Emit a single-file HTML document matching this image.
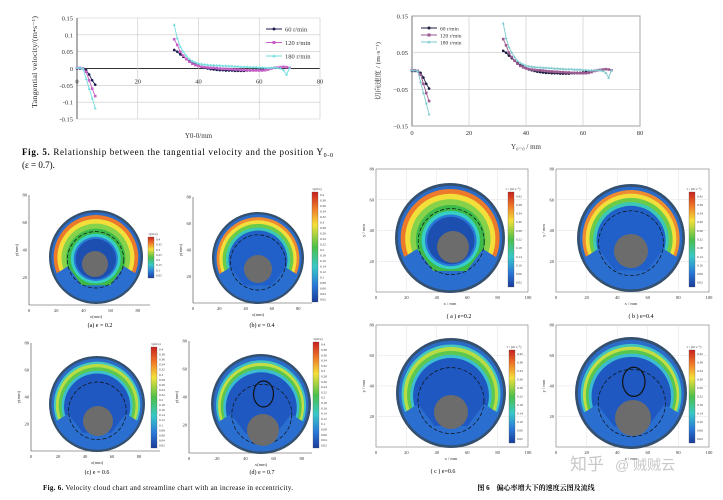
<!DOCTYPE html>
<html><head><meta charset="utf-8">
<style>
html,body{margin:0;padding:0;background:#fff;}
svg{display:block;font-family:"Liberation Serif","Noto Serif CJK SC",serif;}
</style></head>
<body>
<svg id="root" width="723" height="500" viewBox="0 0 723 500" xmlns="http://www.w3.org/2000/svg">
<defs>
<linearGradient id="cbar" x1="0" y1="0" x2="0" y2="1">
<stop offset="0" stop-color="#c8201e"/><stop offset="0.15" stop-color="#f07a28"/><stop offset="0.3" stop-color="#f4e03a"/>
<stop offset="0.5" stop-color="#4cc04a"/><stop offset="0.68" stop-color="#38c8c8"/><stop offset="0.85" stop-color="#2a78d8"/><stop offset="1" stop-color="#1a3c9a"/>
</linearGradient>
</defs>
<g id="charts"></g>
<g id="disks"></g>
<g id="texts">
<text x="22" y="155" font-size="9" textLength="311" lengthAdjust="spacing"><tspan font-weight="bold">Fig. 5.</tspan> Relationship between the tangential velocity and the position Y<tspan font-size="6" dy="2">0-0</tspan></text>
<text x="22" y="168" font-size="9">(ε = 0.7).</text>
<text x="100" y="327" font-size="6" text-anchor="middle">(a) e = 0.2</text>
<text x="262" y="327" font-size="6" text-anchor="middle">(b) e = 0.4</text>
<text x="97" y="474" font-size="6" text-anchor="middle">(c) e = 0.6</text>
<text x="262" y="474" font-size="6" text-anchor="middle">(d) e = 0.7</text>
<text x="43" y="490" font-size="7" textLength="250" lengthAdjust="spacing"><tspan font-weight="bold">Fig. 6.</tspan> Velocity cloud chart and streamline chart with an increase in eccentricity.</text>
<text x="459" y="318" font-size="6" text-anchor="middle">( a ) e=0.2</text>
<text x="641" y="318" font-size="6" text-anchor="middle">( b ) e=0.4</text>
<text x="443" y="473" font-size="6" text-anchor="middle">( c ) e=0.6</text>
<text x="536" y="490" font-size="7" font-weight="bold" text-anchor="middle">图 6　偏心率增大下的速度云图及流线</text>
<text x="570" y="470" font-size="17" fill="#c8c8c8" font-family="Liberation Sans,'Noto Sans CJK SC',sans-serif">知乎</text>
<text x="615" y="470" font-size="14" fill="#c8c8c8" font-family="Liberation Sans,'Noto Sans CJK SC',sans-serif">@ 贼贼云</text>
</g>
</svg>
<script>
const NS="http://www.w3.org/2000/svg";
// ---- chart data ----
const xSeg1=[0,1,2,3,4,5,6];
const x60b=[32,33,34,35,36,37,38,39,40,41,42,43,44,45,46,47,48,49,50,51,52,53,54,55,56,57,58,59,60,61,62];
const x120b=[32,33,34,35,36,37,38,39,40,41,42,43,44,45,46,47,48,49,50,51,52,53,54,55,56,57,58,59,60,61,62,63,64,65,66,67,68,69,70];
const x180b=[32,33,34,35,36,37,38,39,40,41,42,43,44,45,46,47,48,49,50,51,52,53,54,55,56,57,58,59,60,61,62,63,64,65,66,67,68,69,70];
const v60a=[0,0,0,-0.005,-0.018,-0.035,-0.048];
const v120a=[0.002,0.002,0,-0.01,-0.035,-0.06,-0.082];
const v180a=[0.002,0.002,0,-0.03,-0.06,-0.088,-0.118];
const v60b=[0.055,0.05,0.042,0.035,0.028,0.022,0.017,0.012,0.008,0.004,0.002,0,-0.002,-0.003,-0.004,-0.005,-0.005,-0.006,-0.006,-0.006,-0.007,-0.007,-0.007,-0.007,-0.006,-0.006,-0.005,-0.005,-0.004,-0.003,-0.002];
const v120b=[0.087,0.07,0.05,0.038,0.028,0.02,0.014,0.01,0.007,0.005,0.004,0.003,0.002,0.002,0.001,0,-0.001,-0.001,-0.002,-0.002,-0.003,-0.003,-0.004,-0.004,-0.005,-0.005,-0.006,-0.006,-0.006,-0.006,-0.005,-0.003,0,0.002,0.003,0.004,0.005,0.004,0.002];
const v180b=[0.13,0.09,0.065,0.05,0.038,0.028,0.022,0.018,0.015,0.013,0.012,0.011,0.01,0.01,0.009,0.009,0.008,0.008,0.007,0.007,0.006,0.006,0.005,0.005,0.005,0.004,0.004,0.004,0.003,0.003,0.002,0.002,0.002,0.003,0.002,0,-0.005,-0.018,0.002];
const seriesNames=["60 r/min","120 r/min","180 r/min"];
const xTicks=[0,20,40,60,80];
const yTicksL=[0.15,0.1,0.05,0,-0.05,-0.1,-0.15];
const yTickLabelsL=["0.15","0.1","0.05","0","-0.05","-0.1","-0.15"];
const yTicksR=[0.15,0.05,-0.05,-0.15];
const yTickLabelsR=["0.15","0.05","−0.05","−0.15"];

function el(tag,attrs,parent,text){const e=document.createElementNS(NS,tag);for(const k in attrs)e.setAttribute(k,attrs[k]);if(text!==undefined)e.textContent=text;parent.appendChild(e);return e;}
const charts=document.getElementById('charts');

function drawChart(cfg){
  const g=el('g',{},charts);
  
  
  const sx=v=>cfg.x0+(v-0)/80*(cfg.x1-cfg.x0);
  const sy=v=>cfg.y0+(0.15-v)/0.3*(cfg.y1-cfg.y0);
  if(cfg.box){const r=el('rect',{x:cfg.x0,y:cfg.y0,width:cfg.x1-cfg.x0,height:cfg.y1-cfg.y0,fill:'none',stroke:'#555','stroke-width':0.8},g);
    }
  cfg.yTicks.forEach((t,i)=>{
    const gl=el('line',{x1:cfg.x0,x2:cfg.x1,y1:sy(t),y2:sy(t),stroke:t===0&&!cfg.box?'#333':'#c8c8c8','stroke-width':t===0&&!cfg.box?0.9:0.6},g);
    
    const tl=el('text',{x:cfg.x0-4,y:sy(t)+2.5,'font-size':cfg.fs,'text-anchor':'end',fill:'#333'},g,cfg.yLabels[i]);
    
  });
  xTicks.forEach(t=>{
    if(t>0){const gl=el('line',{x1:sx(t),x2:sx(t),y1:cfg.y0,y2:cfg.y1,stroke:'#c8c8c8','stroke-width':0.6},g);
      }
    const ty=cfg.box?cfg.y1+9:sy(0)+15;
    const tl=el('text',{x:sx(t),y:ty,'font-size':cfg.fs,'text-anchor':'middle',fill:'#333'},g,String(t));
    
  });
  if(!cfg.box){const ax=el('line',{x1:cfg.x0,x2:cfg.x0,y1:cfg.y0,y2:cfg.y1,stroke:'#333','stroke-width':0.8},g);
    }
  const sets=[[xSeg1,v60a,x60b,v60b],[xSeg1,v120a,x120b,v120b],[xSeg1,v180a,x180b,v180b]];
  sets.forEach((s,k)=>{
    const col=cfg.colors[k];
    [[s[0],s[1]],[s[2],s[3]]].forEach(([xs,vs])=>{
      const pts=xs.map((x,i)=>sx(x).toFixed(1)+','+sy(vs[i]).toFixed(1)).join(' ');
      const pl=el('polyline',{points:pts,fill:'none',stroke:col,'stroke-width':0.9},g);
      
      
      xs.forEach((x,i)=>{
        let m;
        if(k===0)m=el('circle',{cx:sx(x),cy:sy(vs[i]),r:1.3,fill:col},g);
        else if(k===1)m=el('rect',{x:sx(x)-1.3,y:sy(vs[i])-1.3,width:2.6,height:2.6,fill:col},g);
        else m=el('polygon',{points:`${sx(x)},${sy(vs[i])-1.6} ${sx(x)-1.5},${sy(vs[i])+1.1} ${sx(x)+1.5},${sy(vs[i])+1.1}`,fill:col},g);
        
        
      });
    });
  });
  seriesNames.forEach((n,k)=>{
    const ly=cfg.ly+k*cfg.lstep;
    const ln=el('line',{x1:cfg.lx,x2:cfg.lx+16,y1:ly,y2:ly,stroke:cfg.colors[k],'stroke-width':1},g);
    
    let m;
    if(k===0)m=el('circle',{cx:cfg.lx+8,cy:ly,r:1.5,fill:cfg.colors[k]},g);
    else if(k===1)m=el('rect',{x:cfg.lx+6.5,y:ly-1.5,width:3,height:3,fill:cfg.colors[k]},g);
    else m=el('polygon',{points:`${cfg.lx+8},${ly-1.8} ${cfg.lx+6.3},${ly+1.2} ${cfg.lx+9.7},${ly+1.2}`,fill:cfg.colors[k]},g);
    
    const t=el('text',{x:cfg.lx+19,y:ly+2.5,'font-size':cfg.lfs,fill:'#333'},g,n);
    
  });
  const xt=el('text',{x:(cfg.x0+cfg.x1)/2,y:cfg.xty,'font-size':cfg.fs+0.5,'text-anchor':'middle',fill:'#333'},g,cfg.xTitle);
  
  const yt=el('text',{x:0,y:0,'font-size':cfg.yfs,'text-anchor':'middle',fill:'#333',textLength:cfg.ylen,lengthAdjust:'spacingAndGlyphs',transform:`translate(${cfg.ytx},${cfg.yty}) rotate(-90)`},g,cfg.yTitle);
  
}
drawChart({name:'chart-tangential-velocity-en',x0:77,x1:320,y0:18,y1:119,box:false,fs:6.5,yTicks:yTicksL,yLabels:yTickLabelsL,
  colors:['#1c1c50','#c860c8','#70dede'],lx:266,ly:29,lstep:13.5,lfs:6.5,xTitle:'Y0-0/mm',xty:138,ytx:37,yty:62,yfs:7,ylen:92,yTitle:'Tangential velocity/(m•s⁻¹)'});
drawChart({name:'chart-tangential-velocity-cn',x0:412,x1:640,y0:16,y1:126,box:true,fs:6.5,yTicks:yTicksR,yLabels:yTickLabelsR,
  colors:['#1c1c40','#9a5a90','#7ec8d0'],lx:421,ly:28,lstep:7,lfs:5.5,xTitle:'Y₀₋₀ / mm',xty:149,ytx:380,yty:71,yfs:6.5,ylen:58,yTitle:'切向速度 / (m·s⁻¹)'});

const disks=document.getElementById('disks');
const palettes={
 a:[[1,'#34506e'],[0.95,'#2a6cc8'],[0.9,'#ec7a2a'],[0.82,'#f3df3a'],[0.73,'#86d24a'],[0.63,'#3cba4a'],[0.53,'#38cfc4'],[0.47,'#2a7ad8'],[0.43,'#1d4fb0']],
 b:[[1,'#34506e'],[0.95,'#2a6cc8'],[0.9,'#ee8a30'],[0.84,'#f2df3c'],[0.77,'#6ccc48'],[0.7,'#3cc8b8'],[0.64,'#2060c8']],
 c:[[1,'#34506e'],[0.95,'#2a6cc8'],[0.9,'#44c8c0'],[0.86,'#b8dc44'],[0.8,'#5cc850'],[0.74,'#3cc0d0'],[0.69,'#1f58c0']],
 d:[[1,'#34506e'],[0.95,'#2a6cc8'],[0.9,'#40c4c0'],[0.86,'#c2de44'],[0.81,'#58c64e'],[0.76,'#3cbcd0'],[0.71,'#1f58c0']]
};
let cid=0;
function drawPanel(p){
  const g=el('g',{},disks);
  
  
  if(p.frame){const f=el('rect',{x:p.fx0,y:p.fy0,width:p.fx1-p.fx0,height:p.fy1-p.fy0,fill:'none',stroke:'#777','stroke-width':0.6},g);
    
    for(let i=1;i<5;i++){const x=p.fx0+i*(p.fx1-p.fx0)/5;el('line',{x1:x,x2:x,y1:p.fy0,y2:p.fy1,stroke:'#e2e2e2','stroke-width':0.5},g);}
    [20,40,60].forEach(v=>{const y=p.fy1-(v/80)*(p.fy1-p.fy0);el('line',{x1:p.fx0,x2:p.fx1,y1:y,y2:y,stroke:'#e2e2e2','stroke-width':0.5},g);});
  } else {
    const a1=el('path',{d:`M${p.fx0},${p.fy0} V${p.fy1} H${p.fx1}`,fill:'none',stroke:'#444','stroke-width':0.6},g);
    
  }
  p.xt.forEach((t,i)=>{const x=p.fx0+i*p.xstep;
    const tx=el('text',{x:x,y:p.fy1+7,'font-size':4.5,'text-anchor':'middle',fill:'#333'},g,t);
    });
  [80,60,40,20].forEach(v=>{const y=p.fy1-(v/80)*(p.fy1-p.fy0);
    const ty=el('text',{x:p.fx0-2,y:y+1.5,'font-size':4.5,'text-anchor':'end',fill:'#333'},g,String(v));
    });
  const xl=el('text',{x:p.cx,y:p.fy1+13,'font-size':4.5,'text-anchor':'middle',fill:'#333'},g,p.xlab);
  
  const yl=el('text',{x:0,y:0,'font-size':4.5,'text-anchor':'middle',fill:'#333',transform:`translate(${p.fx0-11},${(p.fy0+p.fy1)/2}) rotate(-90)`},g,p.ylab);
  
  const id='clip'+(cid++);
  const cp=el('clipPath',{id:id},g);el('circle',{cx:p.cx,cy:p.cy,r:p.r*0.95},cp);
  palettes[p.pal].forEach(([f,c],i)=>{
    const k=i<2?0:(1-f)*0.5;
    const ring=el('circle',{cx:p.cx+(p.gx-p.cx)*k,cy:p.cy+(p.gy-p.cy)*k,r:p.r*f,fill:c},g);
    
  });
  const r=p.r;
  const wedge=el('path',{d:`M${p.cx-r},${p.cy+0.45*r} L${p.cx-0.6*r},${p.cy+0.2*r} L${p.cx-0.3*r},${p.cy+0.6*r} L${p.cx+0.3*r},${p.cy+0.6*r} L${p.cx+0.6*r},${p.cy+0.2*r} L${p.cx+r},${p.cy+0.45*r} V${p.cy+r} H${p.cx-r}Z`,fill:'#2a6ed0','clip-path':`url(#${id})`},g);
  
  const sl=el('circle',{cx:p.cx+(p.gx-p.cx)*0.4,cy:p.cy+(p.gy-p.cy)*0.4,r:r*0.6,fill:'none',stroke:'#111','stroke-width':0.7,'stroke-dasharray':'4 2'},g);
  
  if(p.vortex){const v=el('ellipse',{cx:p.cx+r*0.05,cy:p.cy-r*0.2,rx:r*0.2,ry:r*0.26,fill:'none',stroke:'#111','stroke-width':1.2},g);
    }
  const gc=el('circle',{cx:p.gx,cy:p.gy,r:p.gr,fill:'#6c6c6c'},g);
  
  const cb=el('rect',{x:p.bx,y:p.by0,width:6,height:p.by1-p.by0,fill:'url(#cbar)',stroke:'#555','stroke-width':0.3},g);
  
  const n=p.blabels.length;
  p.blabels.forEach((t,i)=>{const y=p.by0+(i+0.5)*(p.by1-p.by0)/n+1;
    const tl=el('text',{x:p.bx+8,y:y,'font-size':3.3,fill:'#333'},g,t);
    });
  const bt=el('text',{x:p.bx+5,y:p.by0-2,'font-size':3.5,'text-anchor':'middle',fill:'#333'},g,p.btitle);
  
}
const enShort=['0.4','0.35','0.3','0.25','0.2','0.15','0.1','0.05'];
const enLong=['0.4','0.38','0.36','0.34','0.32','0.3','0.28','0.26','0.24','0.22','0.2','0.18','0.16','0.14','0.12','0.1','0.08','0.06','0.04','0.02'];
const cnLab=['0.42','0.38','0.34','0.30','0.26','0.22','0.18','0.14','0.10','0.06','0.02'];
const xtEn=['0','20','40','60','80'], xtCn=['0','20','40','60','80','100'];
drawPanel({name:'contour-a-left',pal:'a',fx0:29,fx1:150,fy0:195,fy1:305,xt:xtEn,xstep:27.2,cx:96,cy:257,r:47,gx:95,gy:264,gr:13,bx:148,by0:237,by1:278,blabels:enShort,btitle:'v(m/s)',xlab:'x(mm)',ylab:'y(mm)'});
drawPanel({name:'contour-b-left',pal:'b',fx0:193,fx1:312,fy0:197,fy1:303,xt:xtEn,xstep:26.3,cx:258,cy:258,r:46,gx:258,gy:269,gr:14,bx:312,by0:192,by1:302,blabels:enLong,btitle:'v(m/s)',xlab:'x(mm)',ylab:'y(mm)'});
drawPanel({name:'contour-c-left',pal:'c',fx0:31,fx1:160,fy0:343,fy1:451,xt:xtEn,xstep:27,cx:97,cy:404,r:48,gx:98,gy:421,gr:15,bx:151,by0:347,by1:448,blabels:enLong,btitle:'v(m/s)',xlab:'x(mm)',ylab:'y(mm)'});
drawPanel({name:'contour-d-left',pal:'d',fx0:189,fx1:312,fy0:341,fy1:453,xt:xtEn,xstep:28.2,cx:261,cy:404,r:50,gx:263,gy:430,gr:16,bx:313,by0:342,by1:448,blabels:enLong,btitle:'v(m/s)',xlab:'x(mm)',ylab:'y(mm)',vortex:true});
drawPanel({name:'contour-a-right',frame:true,pal:'a',fx0:376,fx1:528,fy0:169,fy1:292,xt:xtCn,xstep:30.4,cx:450,cy:238,r:55,gx:453,gy:247,gr:16,bx:508,by0:192,by1:287,blabels:cnLab,btitle:'v / (m·s⁻¹)',xlab:'x / mm',ylab:'y / mm'});
drawPanel({name:'contour-b-right',frame:true,pal:'b',fx0:556,fx1:709,fy0:169,fy1:292,xt:xtCn,xstep:30.6,cx:631,cy:238,r:54,gx:631,gy:251,gr:17,bx:689,by0:192,by1:287,blabels:cnLab,btitle:'v / (m·s⁻¹)',xlab:'x / mm',ylab:'y / mm'});
drawPanel({name:'contour-c-right',frame:true,pal:'c',fx0:376,fx1:528,fy0:325,fy1:447,xt:xtCn,xstep:30.4,cx:451,cy:393,r:55,gx:451,gy:412,gr:17,bx:509,by0:350,by1:443,blabels:cnLab,btitle:'v / (m·s⁻¹)',xlab:'x / mm',ylab:'y / mm'});
drawPanel({name:'contour-d-right',frame:true,pal:'d',fx0:556,fx1:709,fy0:325,fy1:447,xt:xtCn,xstep:30.6,cx:631,cy:393,r:56,gx:633,gy:418,gr:18,bx:689,by0:350,by1:443,blabels:cnLab,btitle:'v / (m·s⁻¹)',xlab:'x / mm',ylab:'y / mm',vortex:true});
</script>
</body></html>
